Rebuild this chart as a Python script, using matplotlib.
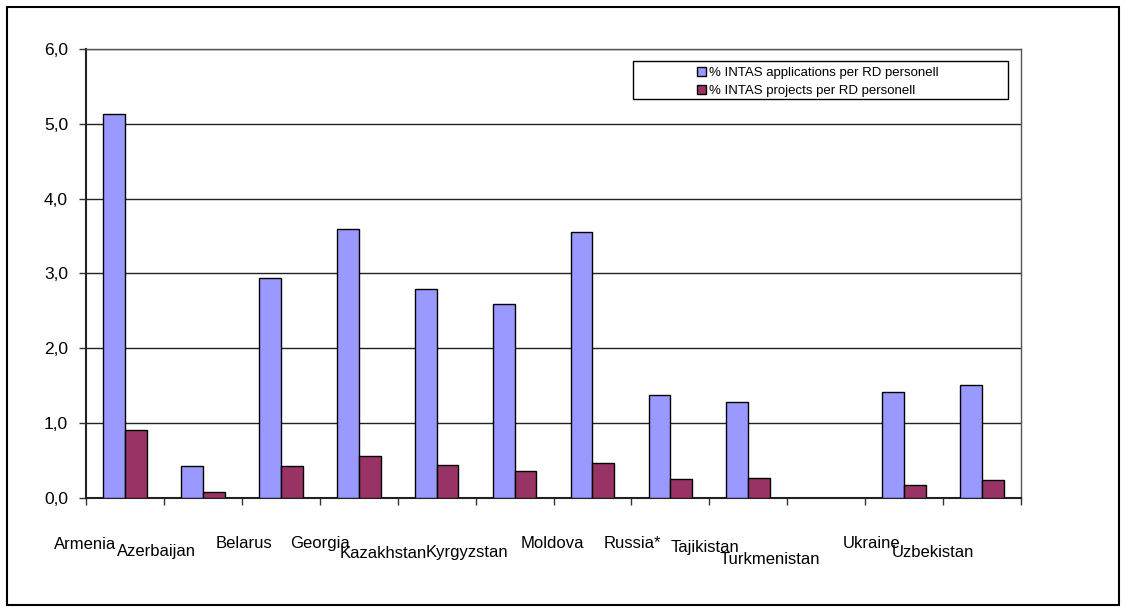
import numpy as np
import matplotlib
matplotlib.use("Agg")
import matplotlib.pyplot as plt
from matplotlib.patches import Rectangle
from matplotlib.ticker import FuncFormatter

plt.rcParams['font.family'] = ['Liberation Sans', 'DejaVu Sans']

countries = ["Armenia", "Azerbaijan", "Belarus", "Georgia", "Kazakhstan", "Kyrgyzstan",
             "Moldova", "Russia*", "Tajikistan", "Turkmenistan", "Ukraine", "Uzbekistan"]
applications = [5.13, 0.42, 2.94, 3.59, 2.79, 2.59, 3.55, 1.37, 1.28, np.nan, 1.41, 1.51]
projects = [0.90, 0.07, 0.42, 0.56, 0.44, 0.36, 0.46, 0.25, 0.26, np.nan, 0.17, 0.23]

# staggered category labels (offsets in pixels from group centre / axis bottom)
label_dx = [-40, -46, -37, -39, -53, -48, -40, -38, -43, -56, -33, -49]
label_dy = [-47, -54, -46, -46, -56, -55, -46, -46, -50, -62, -46, -55]

W, H = 1126, 612
fig = plt.figure(figsize=(W / 100, H / 100), dpi=100)
ax = fig.add_axes([86/W, 1-497.7/H, (1021-86)/W, (497.7-49)/H])

x = np.arange(len(countries))
w = 0.28
ax.bar(x - w/2, applications, w, color="#9999FF", edgecolor="black", linewidth=1,
       label="% INTAS applications per RD personell", zorder=3)
ax.bar(x + w/2, projects, w, color="#993366", edgecolor="black", linewidth=1,
       label="% INTAS projects per RD personell", zorder=3)

ax.set_xlim(-0.5, len(countries) - 0.5)
ax.set_ylim(0, 6)
ax.set_yticks(np.arange(0, 7, 1))
ax.yaxis.set_major_formatter(FuncFormatter(lambda v, p: f"{v:.1f}".replace(".", ",")))
ax.yaxis.grid(True, color="#222222", linewidth=1)
ax.set_axisbelow(True)
ax.set_xticks(np.arange(-0.5, len(countries), 1))
ax.set_xticklabels([])
ax.tick_params(axis="both", direction="out", length=5, width=1, color="#333333")
ax.tick_params(axis="y", labelsize=12.5, pad=8)
for s in ax.spines.values():
    s.set_color("#555555")
    s.set_linewidth(1)
ax.spines["bottom"].set_linewidth(1.5)
ax.spines["bottom"].set_color("#222222")
ax.spines["left"].set_linewidth(1.5)
ax.spines["left"].set_color("#222222")

for i, name in enumerate(countries):
    ax.annotate(name, xy=(i, 0), xycoords=("data", "axes fraction"),
                xytext=(label_dx[i] * 0.72, label_dy[i] * 0.72), textcoords="offset points",
                ha="center", va="center", fontsize=12)

# legend entries without frame, box drawn separately
leg = ax.legend(loc="upper left", bbox_to_anchor=(697/W, 1-67/H), bbox_transform=fig.transFigure,
                frameon=False, fontsize=9.5, handlelength=0.7, handleheight=0.7,
                handletextpad=0.2, borderpad=0, labelspacing=0.4, borderaxespad=0)
for h in leg.legend_handles:
    h.set_linewidth(1)
leg.set_zorder(6)
ax.add_patch(Rectangle((633/W, 1-99/H), (1008-633)/W, 38/H, transform=fig.transFigure,
                       facecolor="white", edgecolor="black", linewidth=1,
                       zorder=5, clip_on=False))

# outer chart border
fig.patches.append(Rectangle((7/W, 7/H), 1112/W, 598/H, transform=fig.transFigure,
                             fill=False, edgecolor="black", linewidth=1.5))

fig.savefig("out.png", dpi=100)
